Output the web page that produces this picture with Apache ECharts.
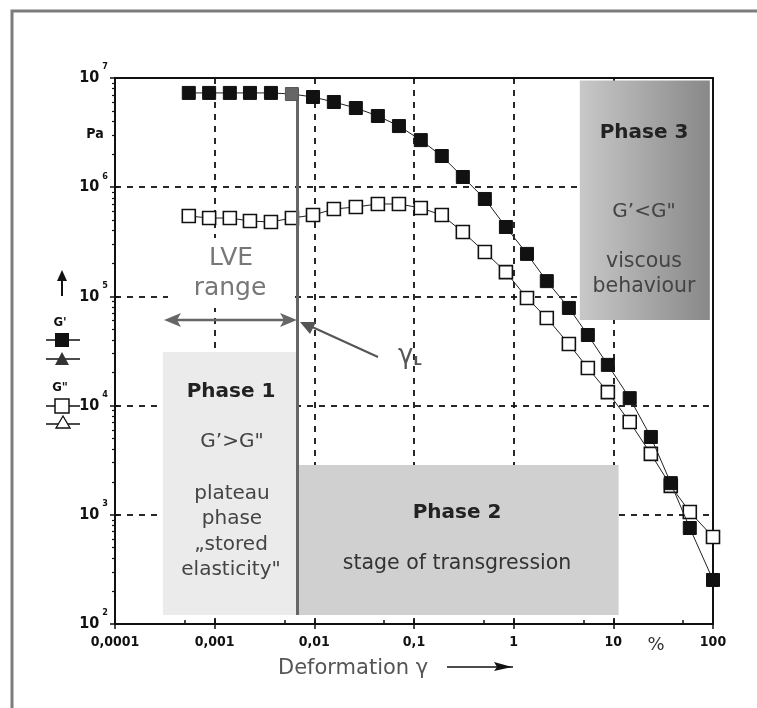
<!DOCTYPE html>
<html><head><meta charset="utf-8">
<script src="https://cdn.jsdelivr.net/npm/echarts@6/dist/echarts.min.js"></script>
<style>html,body{margin:0;padding:0;background:#fff}#c{width:757px;height:708px}</style>
</head><body><div id="c"></div><script>
// ---- data ----
const strainPct = [5.5e-4, 8.8e-4, 1.42e-3, 2.26e-3, 3.67e-3, 5.96e-3, 9.7e-3, 0.0157, 0.0261, 0.0434, 0.0706, 0.117, 0.19, 0.309, 0.514, 0.836, 1.36, 2.15, 3.58, 5.55, 8.81, 14.6, 23.8, 37.7, 58.5, 100];
const storageModulus = [7.3e6, 7.3e6, 7.3e6, 7.3e6, 7.3e6, 7.13e6, 6.7e6, 6.03e6, 5.31e6, 4.49e6, 3.63e6, 2.70e6, 1.93e6, 1.24e6, 7.8e5, 4.32e5, 2.45e5, 1.38e5, 7.84e4, 4.43e4, 2.36e4, 1.17e4, 5160, 1950, 757, 253];
const lossModulus = [5.45e5, 5.22e5, 5.22e5, 4.9e5, 4.8e5, 5.22e5, 5.56e5, 6.31e5, 6.59e5, 7.02e5, 7.02e5, 6.45e5, 5.56e5, 3.89e5, 2.55e5, 1.67e5, 9.67e4, 6.34e4, 3.66e4, 2.21e4, 1.33e4, 7080, 3610, 1840, 1060, 627];
const xTickLabels = ['0,0001', '0,001', '0,01', '0,1', '1', '10', '100'];
const yTickExponents = ['2', '3', '4', '5', '6', '7'];
const gammaL = 6.7e-3;
// phase regions [xFrom, xTo, yFrom, yTo]
const phase1 = [3.03e-4, 6.55e-3, 121, 3.1e4];
const phase2 = [6.95e-3, 11.3, 121, 2.86e3];
const phase3 = [4.61, 92.9, 6.08e4, 9.5e6];
const gammaLine = [121, 8.1e6];

const xMinor = [], xMajor = [], yMinor = [], yMajor = [];
for (let e = -4; e <= 2; e++) { xMajor.push(Math.pow(10, e)); if (e < 2) xMinor.push(5 * Math.pow(10, e)); }
for (let e = 2; e <= 7; e++) { yMajor.push(Math.pow(10, e)); if (e < 7) for (let k = 2; k <= 9; k++) yMinor.push(k * Math.pow(10, e)); }

const chart = echarts.init(document.getElementById('c'), null, {renderer: 'canvas'});
const FONT = 'DejaVu Sans, Verdana, sans-serif';
const BLOCK = 'Liberation Sans Narrow, DejaVu Sans Condensed, Arial Narrow, sans-serif';
const dash = {color: '#111', type: [6, 6], width: 1.8};

const gPrime = strainPct.map((x, i) => i === 5 ? {value: [x, storageModulus[i]], itemStyle: {color: '#666', borderColor: '#555'}} : [x, storageModulus[i]]);
const gDouble = strainPct.map((x, i) => [x, lossModulus[i]]);

function txt(x, y, text, size, color, weight, extra) {
  return Object.assign({type: 'text', x: x, y: y, z: 20, silent: true,
    style: {text: text, font: (weight || 'normal') + ' ' + size + 'px ' + FONT, fill: color, align: 'center', verticalAlign: 'middle'}}, extra || {});
}

const option = {
  animation: false,
  backgroundColor: '#fff',
  grid: {left: 115, right: 44, top: 78, bottom: 84, show: true, borderColor: '#111', borderWidth: 2, backgroundColor: 'transparent'},
  xAxis: [
    {type: 'log', logBase: 10, min: 1e-4, max: 100, position: 'bottom', z: 0,
     axisLine: {show: true, lineStyle: {color: '#111', width: 2}},
     axisTick: {show: true, inside: false, length: 5, lineStyle: {color: '#111', width: 1.5}},
     minorTick: {show: false},
     splitLine: {show: true, lineStyle: dash},
     axisLabel: {margin: 11, color: '#111', fontFamily: BLOCK, fontWeight: 'bold', fontSize: 14,
       formatter: v => xTickLabels[Math.round(Math.log10(v)) + 4]}},
    {type: 'log', logBase: 10, min: 1e-4, max: 100, position: 'bottom', z: 0,
     axisLine: {show: false}, axisLabel: {show: false}, splitLine: {show: false},
     axisTick: {show: true, inside: true, length: 4, customValues: xMajor.concat(xMinor), lineStyle: {color: '#111', width: 1.5}}}
  ],
  yAxis: [
    {type: 'log', logBase: 10, min: 100, max: 1e7, position: 'left', z: 0,
     axisLine: {show: true, lineStyle: {color: '#111', width: 2}},
     axisTick: {show: true, inside: false, length: 5, lineStyle: {color: '#111', width: 1.5}},
     splitLine: {show: true, lineStyle: dash},
     axisLabel: {margin: 7, color: '#111',
       formatter: v => '{b|10}{e|' + yTickExponents[Math.round(Math.log10(v)) - 2] + '}',
       rich: {b: {fontFamily: BLOCK, fontWeight: 'bold', fontSize: 16, color: '#111'},
              e: {fontFamily: BLOCK, fontWeight: 'bold', fontSize: 9, color: '#111', padding: [0, 0, 22, 3]}}}},
    {type: 'log', logBase: 10, min: 100, max: 1e7, position: 'left', z: 0,
     axisLine: {show: false}, axisLabel: {show: false}, splitLine: {show: false},
     axisTick: {show: true, inside: false, length: 3, customValues: yMinor, lineStyle: {color: '#111', width: 1.2}}},
    {type: 'log', logBase: 10, min: 100, max: 1e7, position: 'left', z: 0,
     axisLine: {show: false}, axisLabel: {show: false}, splitLine: {show: false},
     axisTick: {show: true, inside: true, length: 4, customValues: yMajor, lineStyle: {color: '#111', width: 1.5}}}
  ],
  series: [
    {type: 'line', name: 'phases', data: [], z: 1, silent: true,
     markArea: {silent: true, label: {show: false}, data: [
       [{coord: [phase1[0], phase1[2]], itemStyle: {color: '#ebebeb'}}, {coord: [phase1[1], phase1[3]]}],
       [{coord: [phase2[0], phase2[2]], itemStyle: {color: '#d0d0d0'}}, {coord: [phase2[1], phase2[3]]}],
       [{coord: [phase3[0], phase3[2]], itemStyle: {color: new echarts.graphic.LinearGradient(0, 0, 1, 0, [{offset: 0, color: '#c8c8c8'}, {offset: 1, color: '#888888'}])}}, {coord: [phase3[1], phase3[3]]}]
     ]}},
    {type: 'line', name: 'gammaL', data: [], z: 3, silent: true,
     markLine: {silent: true, symbol: ['none', 'none'], label: {show: false},
       lineStyle: {color: '#666', width: 3, type: 'solid'},
       data: [[{coord: [gammaL, gammaLine[0]]}, {coord: [gammaL, gammaLine[1]]}]]}},
    {type: 'line', name: "G''", data: gDouble, z: 4, clip: false,
     symbol: 'rect', symbolSize: [13, 13], showSymbol: true,
     lineStyle: {color: '#222', width: 1},
     itemStyle: {color: '#fff', borderColor: '#111', borderWidth: 1.6}},
    {type: 'line', name: "G'", data: gPrime, z: 5, clip: false,
     symbol: 'rect', symbolSize: [13, 13], showSymbol: true,
     lineStyle: {color: '#222', width: 1},
     itemStyle: {color: '#111', borderColor: '#111', borderWidth: 1}}
  ],
  graphic: [
    // outer frame
    {type: 'polyline', z: 30, silent: true, shape: {points: [[12, 708], [12, 11], [757, 11]]}, style: {stroke: '#7c7c7c', lineWidth: 3, fill: null}},
    // LVE label background
    {type: 'rect', z: 1, silent: true, shape: {x: 168, y: 238, width: 126, height: 70}, style: {fill: '#fff'}},
    txt(231, 258, 'LVE', 25, '#777'),
    txt(230, 288, 'range', 25, '#777'),
    // double arrow
    {type: 'line', z: 20, silent: true, shape: {x1: 176, y1: 320, x2: 285, y2: 320}, style: {stroke: '#666', lineWidth: 2.5}},
    {type: 'polygon', z: 20, silent: true, shape: {points: [[164, 320], [181, 313], [177, 320], [181, 327]]}, style: {fill: '#666'}},
    {type: 'polygon', z: 20, silent: true, shape: {points: [[297, 320], [280, 313], [284, 320], [280, 327]]}, style: {fill: '#666'}},
    // gamma_L pointer
    {type: 'line', z: 20, silent: true, shape: {x1: 378, y1: 357, x2: 310, y2: 326}, style: {stroke: '#555', lineWidth: 2}},
    {type: 'polygon', z: 20, silent: true, shape: {points: [[300, 322], [316, 322], [310, 334]]}, style: {fill: '#555'}},
    {type: 'text', z: 20, silent: true, x: 398, y: 356, style: {text: '{g|γ}{s|L}', align: 'left', verticalAlign: 'middle',
      rich: {g: {font: '26px ' + FONT, fill: '#555'}, s: {font: 'bold 13px ' + FONT, fill: '#555', padding: [12, 0, 0, 0]}}}},
    // phase 1 text
    txt(231, 392, 'Phase 1', 20, '#222', 'bold'),
    txt(232, 442, 'G’>G"', 20, '#444'),
    txt(232, 494, 'plateau', 20, '#444'),
    txt(232, 519, 'phase', 20, '#444'),
    txt(231, 545, '„stored', 20, '#444'),
    txt(231, 570, 'elasticity"', 20, '#444'),
    // phase 2 text
    txt(457, 513, 'Phase 2', 20, '#222', 'bold'),
    txt(457, 564, 'stage of transgression', 20.5, '#333'),
    // phase 3 text
    txt(644, 133, 'Phase 3', 20, '#222', 'bold'),
    txt(644, 212, 'G’<G"', 20, '#444'),
    txt(644, 262, 'viscous', 20.5, '#444'),
    txt(644, 287, 'behaviour', 20.5, '#444'),
    // unit labels
    {type: 'text', z: 20, silent: true, x: 95, y: 134, style: {text: 'Pa', font: 'bold 14px ' + BLOCK, fill: '#111', align: 'center', verticalAlign: 'middle'}},
    txt(656, 645, '%', 18, '#333'),
    // axis name + arrow
    {type: 'text', z: 20, silent: true, x: 278, y: 669, style: {text: 'Deformation γ', font: '21px ' + FONT, fill: '#555', align: 'left', verticalAlign: 'middle'}},
    {type: 'line', z: 20, silent: true, shape: {x1: 447, y1: 667, x2: 513, y2: 667}, style: {stroke: '#111', lineWidth: 1.5}},
    {type: 'polygon', z: 20, silent: true, shape: {points: [[512, 667], [494, 662], [497, 667], [494, 671]]}, style: {fill: '#111'}},
    // left legend
    {type: 'line', z: 20, silent: true, shape: {x1: 62, y1: 278, x2: 62, y2: 296}, style: {stroke: '#111', lineWidth: 2}},
    {type: 'polygon', z: 20, silent: true, shape: {points: [[57, 281], [62, 270], [67, 281]]}, style: {fill: '#111'}},
    {type: 'text', z: 20, silent: true, x: 60, y: 323, style: {text: "G'", font: 'bold 13px ' + BLOCK, fill: '#111', align: 'center', verticalAlign: 'middle'}},
    {type: 'line', z: 20, silent: true, shape: {x1: 46, y1: 340, x2: 80, y2: 340}, style: {stroke: '#111', lineWidth: 1.5}},
    {type: 'rect', z: 21, silent: true, shape: {x: 55, y: 333, width: 14, height: 14}, style: {fill: '#111'}},
    {type: 'line', z: 20, silent: true, shape: {x1: 46, y1: 359, x2: 80, y2: 359}, style: {stroke: '#111', lineWidth: 1.5}},
    {type: 'polygon', z: 21, silent: true, shape: {points: [[55, 365], [62, 352], [69, 365]]}, style: {fill: '#333'}},
    {type: 'text', z: 20, silent: true, x: 60, y: 388, style: {text: 'G"', font: 'bold 13px ' + BLOCK, fill: '#111', align: 'center', verticalAlign: 'middle'}},
    {type: 'line', z: 20, silent: true, shape: {x1: 46, y1: 406, x2: 80, y2: 406}, style: {stroke: '#111', lineWidth: 1.5}},
    {type: 'rect', z: 21, silent: true, shape: {x: 55, y: 399, width: 14, height: 14}, style: {fill: '#fff', stroke: '#111', lineWidth: 1.5}},
    {type: 'line', z: 20, silent: true, shape: {x1: 46, y1: 424, x2: 80, y2: 424}, style: {stroke: '#111', lineWidth: 1.5}},
    {type: 'polygon', z: 21, silent: true, shape: {points: [[56, 428], [63, 416], [70, 428]]}, style: {fill: '#fff', stroke: '#111', lineWidth: 1.3}}
  ]
};
chart.setOption(option);
</script></body></html>
